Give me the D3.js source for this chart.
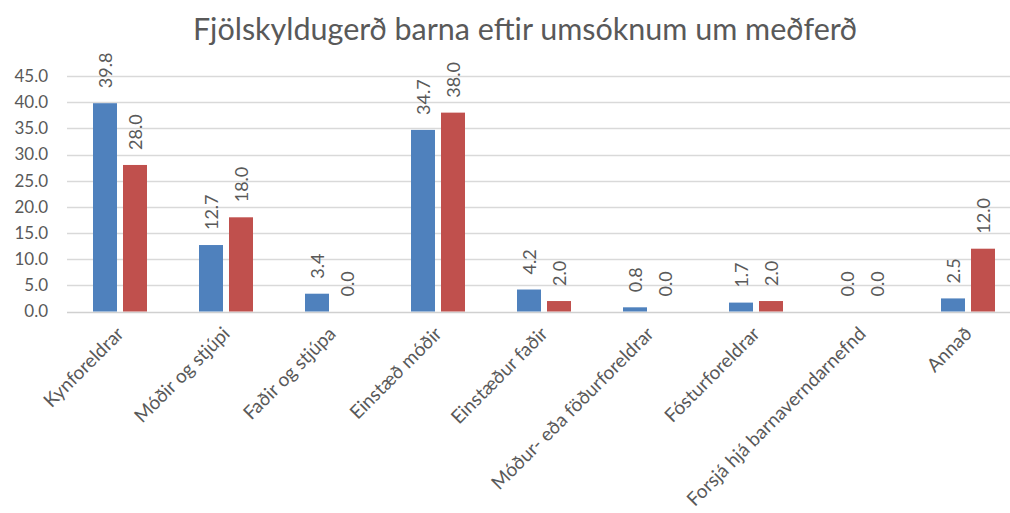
<!DOCTYPE html>
<html>
<head>
<meta charset="utf-8">
<script src="https://cdn.jsdelivr.net/npm/d3@7"></script>
<style>
  body { margin: 0; background: #fff; }
  svg text { font-family: Lato, "Open Sans", sans-serif; fill: #595959; }
</style>
</head>
<body>
<div id="chart"></div>
<script>
const title = 'Fjölskyldugerð barna eftir umsóknum um meðferð';
const categories = ['Kynforeldrar', 'Móðir og stjúpi', 'Faðir og stjúpa', 'Einstæð móðir', 'Einstæður faðir',
  'Móður- eða föðurforeldrar', 'Fósturforeldrar', 'Forsjá hjá barnaverndarnefnd', 'Annað'];
const seriesA = [39.8, 12.7, 3.4, 34.7, 4.2, 0.8, 1.7, 0.0, 2.5];
const seriesB = [28.0, 18.0, 0.0, 38.0, 2.0, 0.0, 2.0, 0.0, 12.0];
const yTicks = [0, 5, 10, 15, 20, 25, 30, 35, 40, 45];
const colors = ['#4f81bd', '#c0504d'];

const W = 1010, H = 513;
const margin = { top: 76, left: 67, bottom: 202 };
const plotRight = 1021;
const y0 = H - margin.bottom;

const svg = d3.select('#chart').append('svg')
  .attr('width', W)
  .attr('height', H);

const x = d3.scaleBand()
  .domain(categories)
  .range([margin.left, plotRight]);

const y = d3.scaleLinear()
  .domain([0, 45])
  .range([y0 + 0.5, margin.top]);

// gridlines
svg.append('g')
  .selectAll('line')
  .data(yTicks)
  .join('line')
  .attr('x1', margin.left)
  .attr('x2', plotRight)
  .attr('y1', d => Math.round(y(d)) + 0.5)
  .attr('y2', d => Math.round(y(d)) + 0.5)
  .attr('stroke', (d) => d === 0 ? '#d0d0d0' : '#d9d9d9')
  .attr('stroke-width', 1.5);

// y tick labels
svg.append('g')
  .selectAll('text')
  .data(yTicks)
  .join('text')
  .attr('x', 48)
  .attr('y', d => y(d))
  .attr('dy', '0.35em')
  .attr('text-anchor', 'end')
  .attr('font-size', '17px')
  .text(d => d3.format('.1f')(d));

const barW = 24, gap = 6;
const series = [seriesA, seriesB];

series.forEach((vals, si) => {
  const offset = si === 0 ? -(barW + gap / 2) : gap / 2;
  const g = svg.append('g');
  g.selectAll('rect')
    .data(vals)
    .join('rect')
    .attr('x', (d, i) => x(categories[i]) + x.bandwidth() / 2 + offset)
    .attr('y', d => y(d))
    .attr('width', barW)
    .attr('height', d => y(0) - y(d))
    .attr('fill', colors[si]);

  g.selectAll('text')
    .data(vals)
    .join('text')
    .attr('transform', (d, i) => {
      const cx = x(categories[i]) + x.bandwidth() / 2 + offset + barW / 2;
      return `translate(${cx + 6.5}, ${y(d) - 15}) rotate(-90)`;
    })
    .attr('font-size', '18px')
    .attr('text-anchor', 'start')
    .text(d => d3.format('.1f')(d));
});

// category labels
svg.append('g')
  .selectAll('text')
  .data(categories)
  .join('text')
  .attr('transform', d => `translate(${x(d) + x.bandwidth() / 2 + 5}, ${y0 + 24}) rotate(-45)`)
  .attr('text-anchor', 'end')
  .attr('font-size', '19px')
  .text(d => d);

// title
svg.append('text')
  .attr('x', 525)
  .attr('y', 40)
  .attr('text-anchor', 'middle')
  .attr('font-size', '30.5px')
  .text(title);
</script>
</body>
</html>
